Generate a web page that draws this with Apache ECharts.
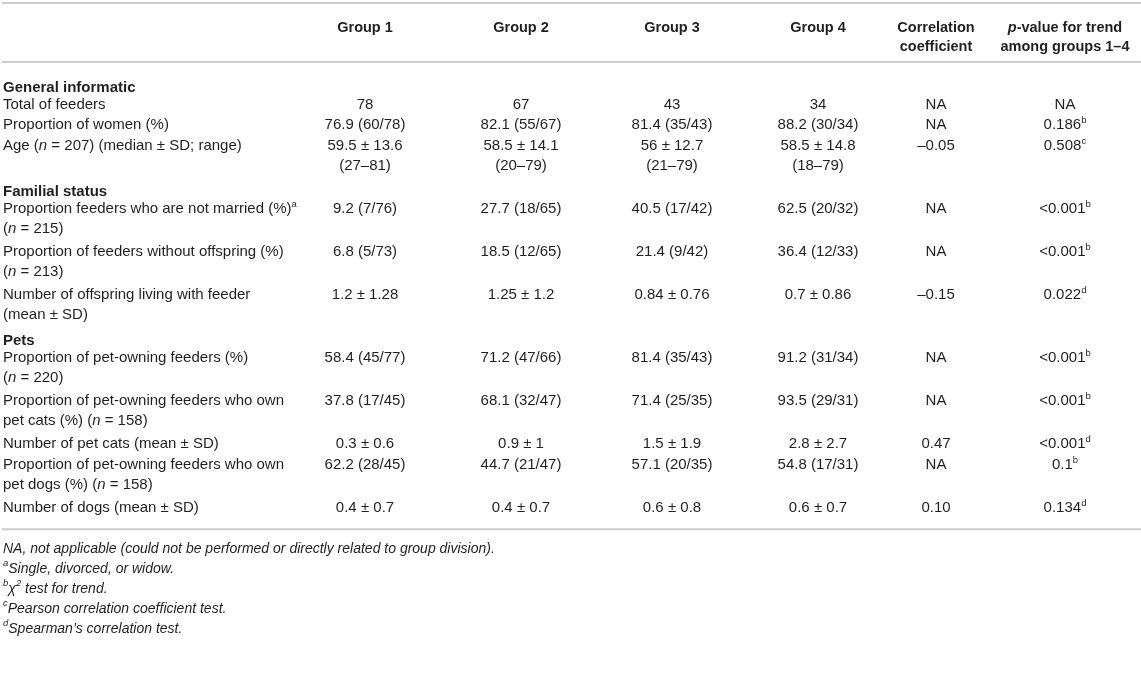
<!DOCTYPE html>
<html>
<head>
<meta charset="utf-8">
<script src="https://cdn.jsdelivr.net/npm/echarts@6/dist/echarts.min.js"></script>
<style>
  html, body { margin: 0; padding: 0; background: #fff; }
  #chart-container { width: 1141px; height: 676px; }
</style>
</head>
<body>
<div id="chart-container"></div>
<script>
// table content
var headers = [
  "Group 1",
  "Group 2",
  "Group 3",
  "Group 4",
  "Correlation\ncoefficient",
  "{bi|p}-value for trend\namong groups 1–4",
];
var sections = ["General informatic", "Familial status", "Pets"];
var rowLabels = [
  [
    "Total of feeders",
    "Proportion of women (%)",
    "Age ({i|n} = 207) (median ± SD; range)",
  ],
  [
    "Proportion feeders who are not married (%){sup|a}\n({i|n} = 215)",
    "Proportion of feeders without offspring (%)\n({i|n} = 213)",
    "Number of offspring living with feeder\n(mean ± SD)",
  ],
  [
    "Proportion of pet-owning feeders (%)\n({i|n} = 220)",
    "Proportion of pet-owning feeders who own\npet cats (%) ({i|n} = 158)",
    "Number of pet cats (mean ± SD)",
    "Proportion of pet-owning feeders who own\npet dogs (%) ({i|n} = 158)",
    "Number of dogs (mean ± SD)",
  ],
];
var group1 = ["78", "76.9 (60/78)", "59.5 ± 13.6\n(27–81)", "9.2 (7/76)", "6.8 (5/73)", "1.2 ± 1.28",
  "58.4 (45/77)", "37.8 (17/45)", "0.3 ± 0.6", "62.2 (28/45)", "0.4 ± 0.7"];
var group2 = ["67", "82.1 (55/67)", "58.5 ± 14.1\n(20–79)", "27.7 (18/65)", "18.5 (12/65)", "1.25 ± 1.2",
  "71.2 (47/66)", "68.1 (32/47)", "0.9 ± 1", "44.7 (21/47)", "0.4 ± 0.7"];
var group3 = ["43", "81.4 (35/43)", "56 ± 12.7\n(21–79)", "40.5 (17/42)", "21.4 (9/42)", "0.84 ± 0.76",
  "81.4 (35/43)", "71.4 (25/35)", "1.5 ± 1.9", "57.1 (20/35)", "0.6 ± 0.8"];
var group4 = ["34", "88.2 (30/34)", "58.5 ± 14.8\n(18–79)", "62.5 (20/32)", "36.4 (12/33)", "0.7 ± 0.86",
  "91.2 (31/34)", "93.5 (29/31)", "2.8 ± 2.7", "54.8 (17/31)", "0.6 ± 0.7"];
var correlation = ["NA", "NA", "–0.05", "NA", "NA", "–0.15", "NA", "NA", "0.47", "NA", "0.10"];
var pValue = ["NA", "0.186{sup|b}", "0.508{sup|c}", "<0.001{sup|b}", "<0.001{sup|b}", "0.022{sup|d}",
  "<0.001{sup|b}", "<0.001{sup|b}", "<0.001{sup|d}", "0.1{sup|b}", "0.134{sup|d}"];
var footnotes = [
  "NA, not applicable (could not be performed or directly related to group division).",
  "{si|a}Single, divorced, or widow.",
  "{si|b}χ{si|2} test for trend.",
  "{si|c}Pearson correlation coefficient test.",
  "{si|d}Spearman’s correlation test.",
];

var columns = [group1, group2, group3, group4, correlation, pValue];

// layout
var FONT = '"Liberation Sans", Arial, Helvetica, sans-serif';
var INK = "#231f20";
var RULE = "#cbcbcb";
var colX = [365, 521, 672, 818, 936, 1065];
var labelX = 3;
var LINE_H = 19.8;
var SEC_TO_ROW = 17;
var SEC_PAD = 3;

function font(size, weight, style) {
  return { fontFamily: FONT, fontSize: size, fontWeight: weight || "normal", fontStyle: style || "normal" };
}
function rich(size) {
  return {
    i: Object.assign(font(size, "normal", "italic"), { fill: INK }),
    bi: Object.assign(font(size, "bold", "italic"), { fill: INK }),
    sup: Object.assign(font(9.5), { fill: INK, lineHeight: 12, verticalAlign: "top" }),
    si: Object.assign(font(9.5, "normal", "italic"), { fill: INK, lineHeight: 12, verticalAlign: "top" }),
  };
}
function text(str, x, yCenter, align, f, lineH) {
  return {
    type: "text",
    silent: true,
    style: Object.assign({}, f, {
      text: str,
      x: x,
      y: yCenter - lineH / 2,
      fill: INK,
      align: align,
      verticalAlign: "top",
      textAlign: align,
      textVerticalAlign: "top",
      lineHeight: lineH,
      rich: rich(f.fontSize),
    }),
  };
}
function rule(y) {
  return {
    type: "line",
    silent: true,
    shape: { x1: 2, y1: y, x2: 1141, y2: y },
    style: { stroke: RULE, lineWidth: 2 },
  };
}

var elements = [];
elements.push(rule(3));
headers.forEach(function (h, c) {
  elements.push(text(h, colX[c], 28, "center", font(14.5, "bold"), 19));
});
elements.push(rule(62));

var y = 87.5;
var r = 0;
sections.forEach(function (sec, s) {
  elements.push(text(sec, labelX, y, "left", font(15, "bold"), LINE_H));
  y += SEC_TO_ROW;
  rowLabels[s].forEach(function (label) {
    var lines = label.split("\n").length;
    elements.push(text(label, labelX, y, "left", font(15), LINE_H));
    columns.forEach(function (col, c) {
      lines = Math.max(lines, col[r].split("\n").length);
      elements.push(text(col[r], colX[c], y, "center", font(15), LINE_H));
    });
    // wrapped rows get a little more air than single-line rows
    y += lines * LINE_H + (lines > 1 ? 3.4 : 1.0);
    r++;
  });
  if (s < sections.length - 1) y += SEC_PAD;
});
var lastRule = y + 0.5;
elements.push(rule(lastRule));

footnotes.forEach(function (note, k) {
  elements.push(text(note, labelX, lastRule + 19.5 + k * 20, "left", font(14, "normal", "italic"), 20));
});

var dom = document.getElementById("chart-container");
var myChart = echarts.init(dom, null, { renderer: "canvas" });
var option = {
  backgroundColor: "#ffffff",
  animation: false,
  graphic: { elements: elements },
};
myChart.setOption(option);
window.addEventListener("resize", myChart.resize);
</script>
</body>
</html>
